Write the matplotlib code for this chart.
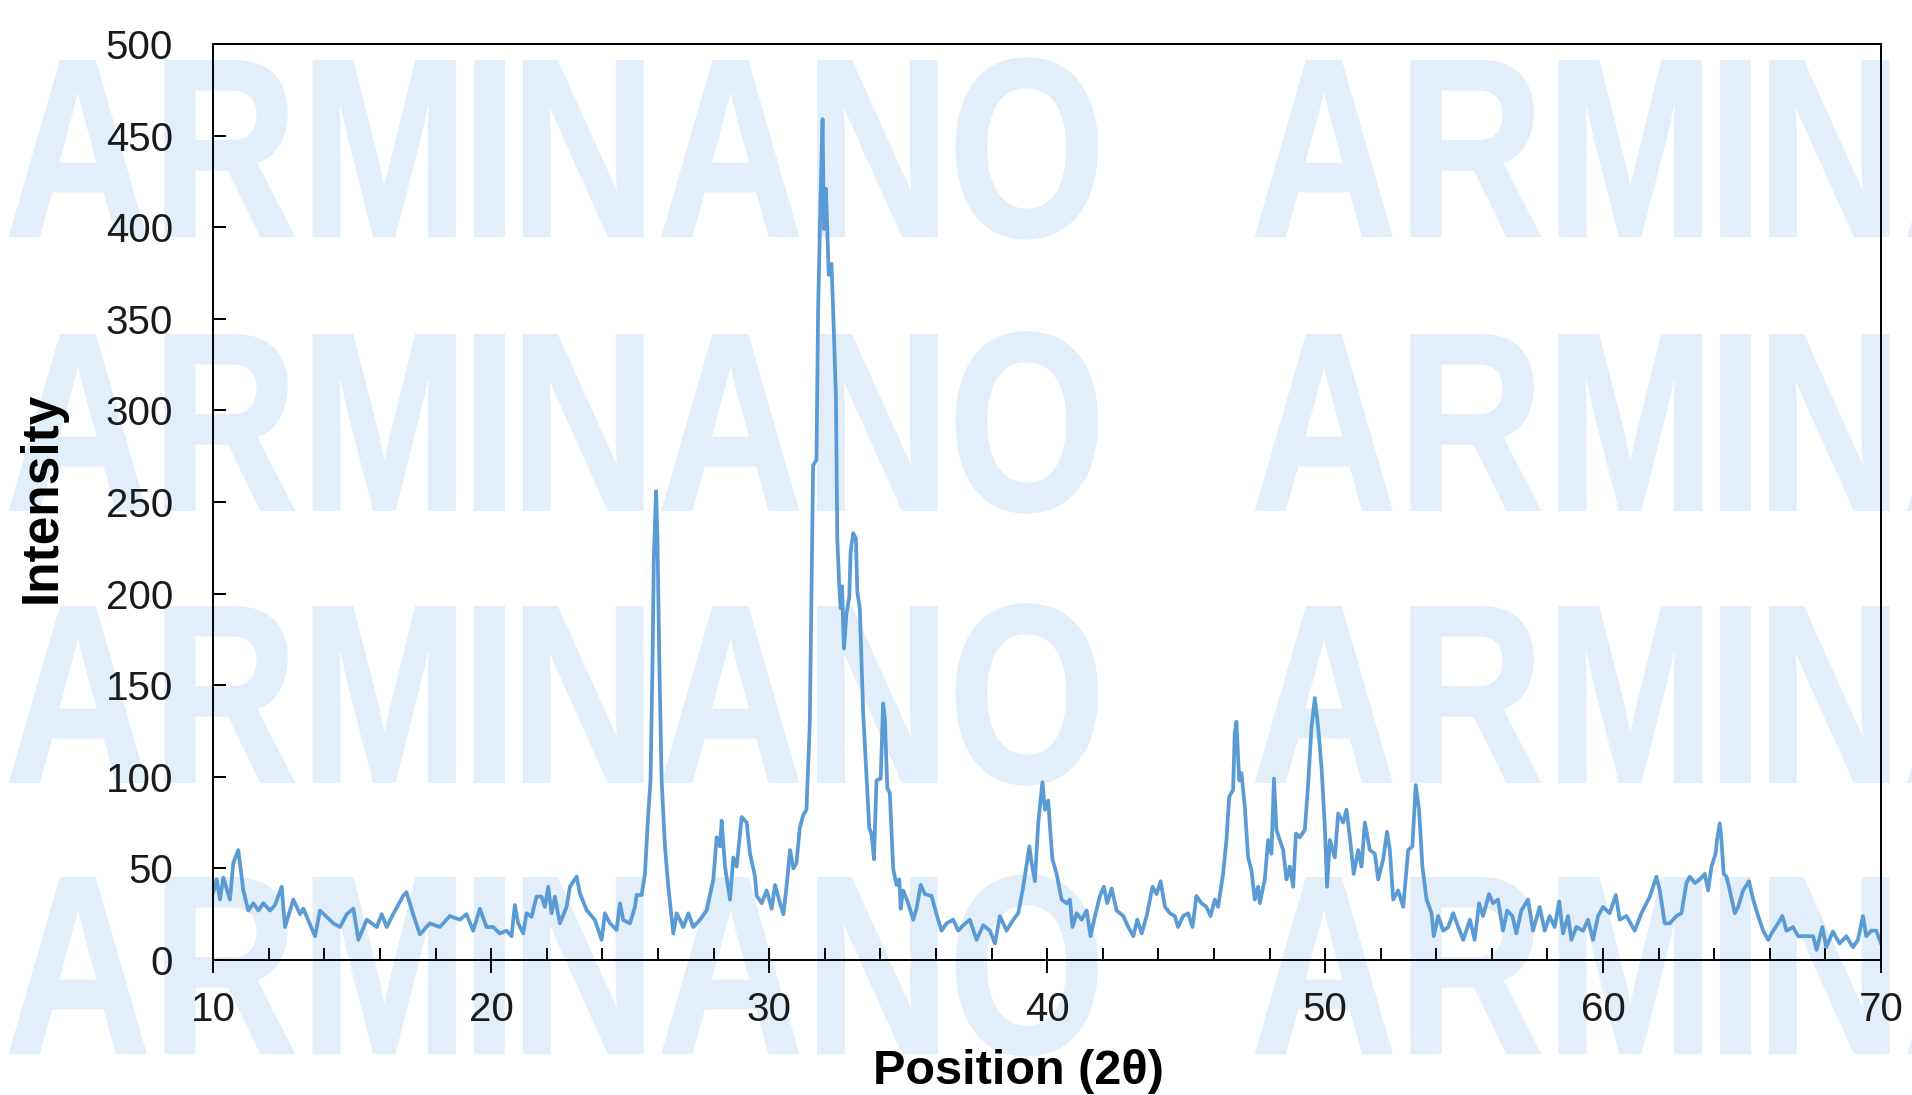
import matplotlib
matplotlib.use("Agg")
import matplotlib.pyplot as plt
from matplotlib.font_manager import FontProperties
from matplotlib.patches import PathPatch
from matplotlib.textpath import TextPath
from matplotlib.transforms import Affine2D
from matplotlib.ticker import MultipleLocator

# XRD pattern
two_theta = [
    10.00, 10.12, 10.24, 10.36, 10.60, 10.72, 10.90, 11.08, 11.26, 11.44, 11.62, 11.80,
    12.04, 12.22, 12.46, 12.58, 12.88, 13.12, 13.24, 13.66, 13.84, 14.32, 14.56, 14.80,
    15.04, 15.22, 15.52, 15.88, 16.06, 16.24, 16.47, 16.83, 16.95, 17.19, 17.43, 17.79,
    18.15, 18.51, 18.87, 19.11, 19.35, 19.59, 19.83, 20.07,
    20.31, 20.55, 20.73, 20.85, 20.97, 21.15, 21.27, 21.45, 21.63, 21.81, 21.93, 22.05,
    22.17, 22.29, 22.47, 22.71, 22.83, 23.07, 23.19, 23.43, 23.73, 23.97, 24.09, 24.27,
    24.51, 24.63, 24.75, 24.99, 25.17, 25.23, 25.41, 25.53, 25.65, 25.73, 25.80, 25.85,
    25.93, 25.98, 26.05, 26.13, 26.25, 26.37, 26.55, 26.67, 26.91, 27.09, 27.27, 27.51,
    27.75, 27.99, 28.11, 28.23, 28.29, 28.41, 28.59, 28.71, 28.83, 29.01, 29.19, 29.31,
    29.49, 29.55, 29.73, 29.91, 30.09, 30.21, 30.39, 30.51, 30.63, 30.75, 30.87, 30.98,
    31.10, 31.22, 31.34, 31.46, 31.52, 31.58, 31.70, 31.76, 31.85, 31.92, 31.97, 32.04,
    32.09, 32.14, 32.24, 32.30, 32.40, 32.45, 32.52, 32.57, 32.62, 32.69, 32.78, 32.88,
    32.93, 33.02, 33.12, 33.17, 33.26, 33.38, 33.50, 33.60, 33.68, 33.77, 33.86, 34.01,
    34.10, 34.16, 34.25, 34.34, 34.46, 34.58, 34.68, 34.73, 34.82, 35.00, 35.18, 35.30,
    35.45, 35.60, 35.84, 36.02, 36.20, 36.38, 36.62, 36.80, 36.98, 37.22, 37.46, 37.70,
    37.94, 38.12, 38.24, 38.30, 38.54, 38.78, 38.96, 39.14, 39.36, 39.44, 39.56, 39.68,
    39.83, 39.92, 40.04, 40.10, 40.19, 40.34, 40.52, 40.70, 40.82, 40.91, 41.06, 41.24,
    41.42, 41.56, 41.72, 41.90, 42.04, 42.16, 42.32, 42.50, 42.74, 42.92, 43.10, 43.24,
    43.40, 43.58, 43.79, 43.94, 44.08, 44.24, 44.42, 44.59, 44.71, 44.89, 45.07, 45.23,
    45.37, 45.55, 45.73, 45.88, 46.03, 46.15, 46.33, 46.45, 46.55, 46.69, 46.75, 46.81,
    46.91, 46.99, 47.11, 47.23, 47.35, 47.47, 47.59, 47.65, 47.83, 47.95, 48.07, 48.16,
    48.25, 48.37, 48.49, 48.61, 48.73, 48.85, 48.95, 49.09, 49.27, 49.39, 49.51, 49.63,
    49.75, 49.87, 49.99, 50.07, 50.17, 50.35, 50.47, 50.65, 50.77, 50.89, 51.03, 51.19,
    51.31, 51.43, 51.61, 51.79, 51.91, 52.09, 52.23, 52.33, 52.45, 52.63, 52.81, 52.99,
    53.14, 53.26, 53.38, 53.50, 53.65, 53.83, 53.91, 54.07, 54.25, 54.43, 54.61, 54.79,
    54.97, 55.21, 55.38, 55.54, 55.68, 55.90, 56.04, 56.22, 56.40, 56.55, 56.74, 56.88,
    57.06, 57.30, 57.48, 57.72, 57.90, 58.08, 58.26, 58.42, 58.56, 58.74, 58.86, 59.04,
    59.28, 59.46, 59.64, 59.82, 60.00, 60.24, 60.46, 60.60, 60.84, 61.14, 61.38, 61.68,
    61.92, 62.04, 62.22, 62.40, 62.64, 62.82, 63.00, 63.12, 63.30, 63.48, 63.66, 63.78,
    63.90, 64.05, 64.10, 64.20, 64.26, 64.34, 64.44, 64.56, 64.74, 64.86, 65.04, 65.25,
    65.40, 65.58, 65.76, 65.94, 66.12, 66.30, 66.45, 66.60, 66.84, 67.02, 67.26, 67.56,
    67.68, 67.89, 68.03, 68.27, 68.51, 68.75, 68.99, 69.17, 69.35, 69.47, 69.65, 69.83,
    70.00,
]
intensity = [
    37, 44, 33, 45, 33, 53, 60, 38, 27, 31, 27, 31,
    27, 30, 40, 18, 33, 25, 28, 13, 27, 20, 18, 25,
    28, 11, 22, 18, 25, 18, 25, 35, 37, 25, 14, 20,
    18, 24, 22, 25, 16, 28, 18, 18,
    14.5, 16, 13, 30, 20, 14.5, 25.5, 23.6, 34.6, 34.6, 29, 40,
    25.5, 34.6, 20, 29, 40, 45.5, 36.4, 27.3, 21.8, 11, 25.5, 20,
    16.4, 31, 21.8, 20, 29, 35.5, 35.5, 47, 80, 98, 160, 220,
    256, 230, 160, 98, 62, 40, 14.5, 25.5, 18, 25.5, 18, 22,
    27, 44, 67, 62, 76, 51, 33, 56, 51, 78, 75, 58,
    45.5, 35, 31, 38, 28, 41, 31, 25, 41, 60, 50, 53,
    72, 79, 82, 129, 198, 270, 273, 355, 418, 459, 399, 421,
    399, 374, 380, 355, 308, 230, 204, 192, 204, 170, 189, 198,
    223, 233, 230, 201, 192, 135, 101, 72, 69, 55, 98, 99,
    140, 132, 94, 91, 50, 41, 44, 28, 38, 31, 22, 28,
    41, 36, 35, 25, 16, 20, 22, 16, 19, 22, 11, 19,
    16, 9, 19, 24, 16, 22, 25.5, 40, 62, 53, 43, 75,
    97, 82, 87, 73, 55, 47, 33, 31, 33, 18, 25.5, 22,
    27, 13, 24, 35, 40, 31, 39, 27, 24, 18, 13, 22,
    14.5, 24, 40, 36, 43, 29, 25.5, 24, 18, 24, 25.5, 18,
    35, 31, 29, 24, 33, 29, 47, 65.5, 89, 93, 124, 130,
    98, 102, 84, 56, 49, 33, 40, 31, 44, 65.5, 58, 99,
    71, 65.5, 60, 44, 51, 40, 69, 67, 71, 96, 127, 143,
    127, 105.5, 73, 40, 65.5, 56, 80, 75, 82, 67, 47, 60,
    51, 75, 60, 58, 44, 55, 70, 60, 33, 38, 29, 60,
    62, 95.5, 82, 51, 33, 25.5, 13, 24, 16, 18, 25.5, 18,
    11, 22, 11, 31, 24, 36, 31, 33, 16, 27, 24, 14.5,
    27, 33, 16, 29, 16, 24, 18, 32, 14.5, 24, 11, 18,
    16, 22, 11, 24, 29, 25.5, 35.5, 22, 24, 16, 25.5, 34.5,
    45.5, 38, 20, 20, 24, 25.5, 42, 45.5, 42, 44, 47, 38,
    51, 58, 65.5, 74.6, 65.5, 47, 45.5, 38, 25.5, 29, 38, 43,
    33, 24, 16, 11, 16, 20, 24, 16, 18, 13, 13, 13,
    5.5, 18, 7, 15.5, 9, 13, 7, 11, 24, 13, 16, 16,
    9,
]

x_ticks = [10, 20, 30, 40, 50, 60, 70]
y_ticks = [0, 50, 100, 150, 200, 250, 300, 350, 400, 450, 500]
watermark_word = "ARMINANO"

W, H = 1912, 1095
fig = plt.figure(figsize=(W / 100, H / 100), dpi=100)
fig.patch.set_facecolor("white")

# faint watermark tiles behind everything: condensed letters with small gaps
wm_prop = FontProperties(family="Liberation Sans", weight="bold")
glyphs = [TextPath((0, 0), ch, size=100, prop=wm_prop) for ch in watermark_word]
cap_h = glyphs[0].get_extents().height
wm_h, wm_w, gap = 175, 1087, 20
ink = [g.get_extents().width for g in glyphs]
sx = (wm_w - gap * (len(glyphs) - 1)) / sum(ink)
sy = wm_h / cap_h
for top in [61, 335, 607, 878]:
    for left in [10, 1256]:
        cursor = left
        for g, w in zip(glyphs, ink):
            e = g.get_extents()
            tr = (Affine2D().translate(-e.x0, 0)
                  .scale(sx, sy)
                  .translate(cursor, H - top - wm_h)
                  .scale(1 / W, 1 / H)) + fig.transFigure
            fig.add_artist(PathPatch(g, transform=tr, facecolor="#e2eef9",
                                     edgecolor="#e2eef9", linewidth=1.5, zorder=-5))
            cursor += w * sx + gap

ax = fig.add_axes([213.3 / W, 1 - 960 / H, (1881 - 213.3) / W, (960 - 44) / H])
ax.set_facecolor("none")

ax.plot(two_theta, intensity, color="#5b9bd5", linewidth=2.7, solid_joinstyle="round")

ax.set_xlim(10, 70)
ax.set_ylim(0, 500)
ax.set_xticks(x_ticks)
ax.set_yticks(y_ticks)
ax.xaxis.set_minor_locator(MultipleLocator(2))

for sp in ax.spines.values():
    sp.set_linewidth(1.4)
    sp.set_color("black")

ax.tick_params(axis="x", which="major", direction="inout", length=18, width=1.4,
               pad=13, labelsize=29)
ax.tick_params(axis="x", which="minor", direction="in", length=9, width=1.4)
ax.tick_params(axis="y", which="major", direction="in", length=9, width=1.4,
               pad=29, labelsize=29)
for lab in ax.get_xticklabels() + ax.get_yticklabels():
    lab.set_family("Liberation Sans")
    lab.set_color("#1a1a1a")

ax.set_xlabel("Position (2θ)", fontsize=35, fontweight="bold", family="Liberation Sans",
              x=0.483, labelpad=15)
ax.set_ylabel("Intensity", fontsize=37, fontweight="bold", family="Liberation Sans",
              y=0.505, labelpad=28)

fig.savefig("out.png", dpi=100)
